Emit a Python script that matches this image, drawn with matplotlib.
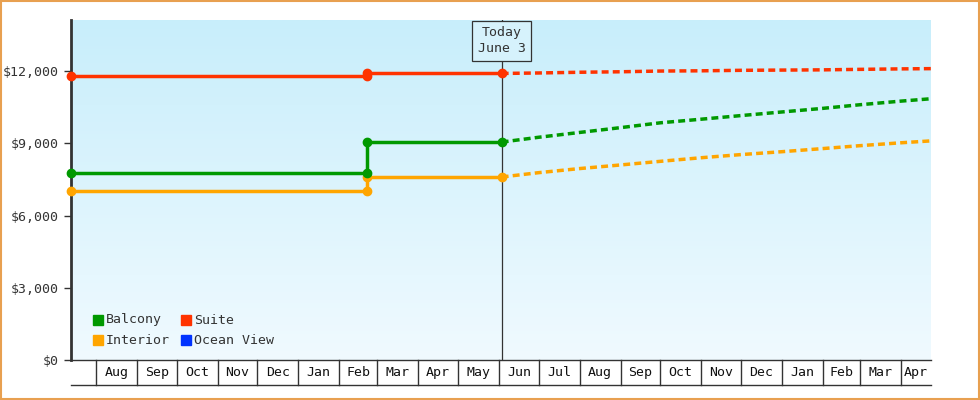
import matplotlib
matplotlib.use("Agg")
import matplotlib.pyplot as plt
import matplotlib.dates as mdates
import matplotlib.transforms as mtrans
import numpy as np
from datetime import date

plt.rcParams['font.family'] = ['DejaVu Sans Mono']

start = date(2023, 7, 13)
end = date(2025, 4, 24)
change = date(2024, 2, 22)
today = date(2024, 6, 3)

hist_dates = [start, change, change, today]
suite_hist = [11800, 11800, 11900, 11900]
balcony_hist = [7750, 7750, 9050, 9050]
interior_hist = [7000, 7000, 7600, 7600]

fc_dates = [date(2024, 6, 3), date(2024, 7, 1), date(2024, 8, 1), date(2024, 9, 1), date(2024, 10, 1),
            date(2024, 11, 1), date(2024, 12, 1), date(2025, 1, 1), date(2025, 2, 1), date(2025, 3, 1),
            date(2025, 4, 1), date(2025, 4, 24)]
suite_fc = [11900, 11920, 11950, 11970, 12000, 12010, 12030, 12040, 12050, 12070, 12090, 12100]
balcony_fc = [9050, 9250, 9450, 9650, 9850, 10000, 10150, 10300, 10450, 10600, 10750, 10850]
interior_fc = [7600, 7780, 7950, 8100, 8250, 8400, 8530, 8650, 8780, 8900, 9020, 9100]

month_starts = [date(2023, 8, 1)] + [date(2023 + (m // 12), m % 12 + 1, 1) for m in range(8, 8 + 20)]
month_labels = ['Aug', 'Sep', 'Oct', 'Nov', 'Dec', 'Jan', 'Feb', 'Mar', 'Apr', 'May', 'Jun',
                'Jul', 'Aug', 'Sep', 'Oct', 'Nov', 'Dec', 'Jan', 'Feb', 'Mar', 'Apr']
month_starts = [date(2023 + (m // 12), m % 12 + 1, 1) for m in range(7, 7 + 21)]

colors = {'Balcony': '#009900', 'Suite': '#ff3300', 'Interior': '#ffa500', 'Ocean View': '#0033ff'}

fig = plt.figure(figsize=(9.8, 4.0), dpi=100)
fig.patch.set_facecolor('white')
fig.patches.append(plt.Rectangle((0.001, 0.002), 0.998, 0.996, transform=fig.transFigure,
                                 fill=False, edgecolor='#e8a050', lw=1.5))
ax = fig.add_axes([71/980, 40/400, 860/980, 340/400])
x0, x1 = mdates.date2num(start), mdates.date2num(end)
ax.set_xlim(x0, x1)
ax.set_ylim(0, 14120)

grad = np.linspace(0, 1, 256).reshape(-1, 1)
from matplotlib.colors import LinearSegmentedColormap
cmap = LinearSegmentedColormap.from_list('g', ['#f0faff', '#c8eefb'])
ax.imshow(grad, aspect='auto', cmap=cmap, origin='lower', extent=[x0, x1, 0, 14120], zorder=0)

hd = mdates.date2num(hist_dates)
fd = mdates.date2num(fc_dates)
for name, h, f in [('Interior', interior_hist, interior_fc), ('Balcony', balcony_hist, balcony_fc),
                   ('Suite', suite_hist, suite_fc)]:
    c = colors[name]
    ax.plot(hd, h, color=c, lw=2.5, zorder=3, solid_capstyle='round')
    ax.plot(hd[[0, 1, 3]], np.array(h)[[0, 1, 3]], 'o', color=c, ms=6, zorder=4, clip_on=False)
    ax.plot(hd[2], h[2], 'o', color=c, ms=6, zorder=4)
    ax.plot(fd, f, color=c, lw=2.5, ls=(0, (2, 1.2)), zorder=3)

tn = mdates.date2num(today)
ax.axvline(tn, color='#333333', lw=0.9, zorder=2)
ax.text(tn, 13250, 'Today\nJune 3', ha='center', va='center', fontsize=9.5, color='#333333',
        bbox=dict(boxstyle='square,pad=0.4', fc='#d6f2fc', ec='#333333', lw=0.9), zorder=5, linespacing=1.3)

for s in ['top', 'right']:
    ax.spines[s].set_visible(False)
ax.spines['left'].set_linewidth(2)
ax.spines['left'].set_color('#333333')
ax.spines['bottom'].set_linewidth(1)
ax.spines['bottom'].set_color('#333333')
ax.set_yticks([0, 3000, 6000, 9000, 12000])
ax.set_yticklabels(['$0', '$3,000', '$6,000', '$9,000', '$12,000'], fontsize=9.5, color='#333333')
ax.tick_params(axis='y', length=5, width=1, color='#333333')
ax.set_xticks([])

trans = mtrans.blended_transform_factory(ax.transData, ax.transAxes)
ms = mdates.date2num(month_starts)
bot = -25/340
for m in ms:
    ax.plot([m, m], [0, bot], transform=trans, color='#333333', lw=1, clip_on=False)
ax.plot([x0, x1], [bot, bot], transform=trans, color='#333333', lw=1, clip_on=False)
edges = list(ms) + [x1]
for i, lab in enumerate(month_labels):
    ax.text((edges[i] + edges[i + 1]) / 2, bot / 2, lab, transform=trans, ha='center', va='center',
            fontsize=9.5, color='#111111')

legend_items = [('Balcony', 0), ('Suite', 1), ('Interior', 0), ('Ocean View', 1)]
for k, (name, col) in enumerate(legend_items):
    xp = 93/980 + col * 88/980
    yp = 1 - (320 + 20 * (k // 2)) / 400
    fig.patches.append(plt.Rectangle((xp, yp - 5/400), 10/980, 10/400, transform=fig.transFigure,
                                     color=colors[name], zorder=6))
    fig.text(xp + 13/980, yp, name, fontsize=9.5, va='center', color='#333333')

fig.savefig('out.png', dpi=100)
